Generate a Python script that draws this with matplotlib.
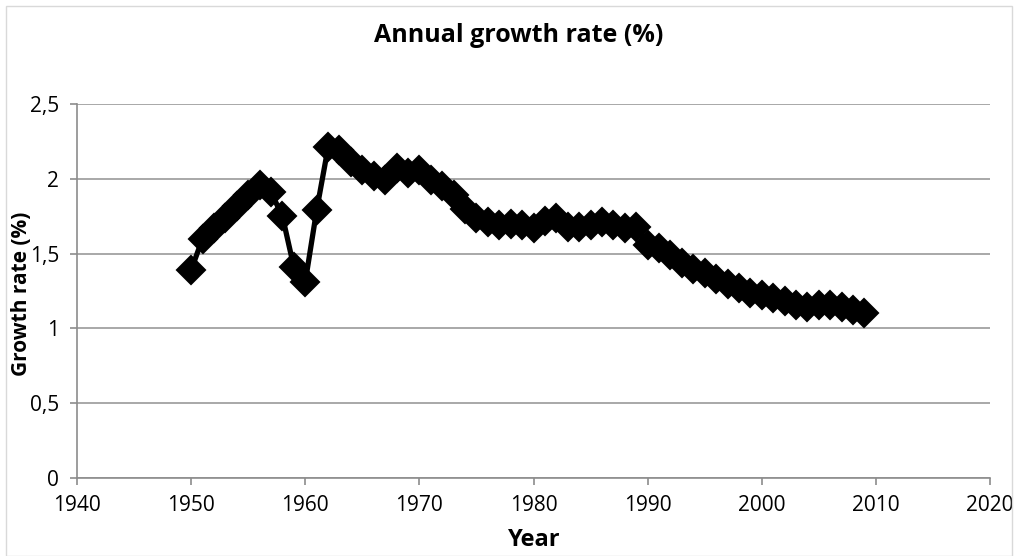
import matplotlib
matplotlib.use("Agg")
import matplotlib.pyplot as plt
from matplotlib.patches import Rectangle

years = list(range(1950, 2010))
growth = [
    1.39, 1.60, 1.67, 1.74, 1.82, 1.89, 1.96, 1.91, 1.75, 1.41,
    1.31, 1.79, 2.21, 2.19, 2.11, 2.06, 2.02, 1.99, 2.07, 2.04,
    2.06, 1.99, 1.95, 1.89, 1.80, 1.74, 1.71, 1.69, 1.70, 1.69,
    1.67, 1.72, 1.74, 1.68, 1.68, 1.69, 1.71, 1.69, 1.67, 1.68,
    1.56, 1.54, 1.49, 1.44, 1.40, 1.37, 1.33, 1.30, 1.27, 1.235,
    1.22, 1.20, 1.18, 1.155, 1.145, 1.155, 1.155, 1.145, 1.12, 1.10,
]
x_ticks = [1940, 1950, 1960, 1970, 1980, 1990, 2000, 2010, 2020]
y_ticks = [0, 0.5, 1, 1.5, 2, 2.5]
y_ticklabels = ["0", "0,5", "1", "1,5", "2", "2,5"]

plt.rcParams['font.family'] = ['Open Sans', 'DejaVu Sans']

W, H = 1018, 556
fig = plt.figure(figsize=(W / 100, H / 100), dpi=100)
ax = fig.add_axes([77 / W, 1 - 478 / H, (990 - 77) / W, (478 - 104) / H])

fig.patches.append(Rectangle((6 / W, 0), (W - 12) / W, 1 - 6 / H,
                             transform=fig.transFigure, fill=False,
                             edgecolor='#d9d9d9', linewidth=1))

ax.plot(years, growth, color='black', linewidth=3.8, marker='D',
        markersize=14, markeredgewidth=1.5, markerfacecolor='black',
        markeredgecolor='black', zorder=3)

ax.set_xlim(1940, 2020)
ax.set_ylim(0, 2.5)
ax.set_xticks(x_ticks)
ax.set_yticks(y_ticks)
ax.set_yticklabels(y_ticklabels)
ax.grid(axis='y', color='#9a9a9a', linewidth=1.2)
ax.set_axisbelow(True)
for s in ['top', 'right']:
    ax.spines[s].set_visible(False)
for s in ['left', 'bottom']:
    ax.spines[s].set_color('#8c8c8c')
    ax.spines[s].set_linewidth(1.2)
ax.tick_params(axis='both', colors='#8c8c8c', length=5, width=1.2,
               labelcolor='black', labelsize=15)
ax.tick_params(axis='y', pad=8)
ax.tick_params(axis='x', pad=7)

fig.text(519 / W, 1 - 36 / H, "Annual growth rate (%)", ha='center',
         va='center', fontsize=18, fontweight='bold')
fig.text(22 / W, 1 - 294 / H, "Growth rate (%)", ha='center', va='center',
         rotation=90, fontsize=15, fontweight='bold')
fig.text(534 / W, 1 - 540 / H, "Year", ha='center', va='center',
         fontsize=17, fontweight='bold')

fig.savefig("out.png", dpi=100)
